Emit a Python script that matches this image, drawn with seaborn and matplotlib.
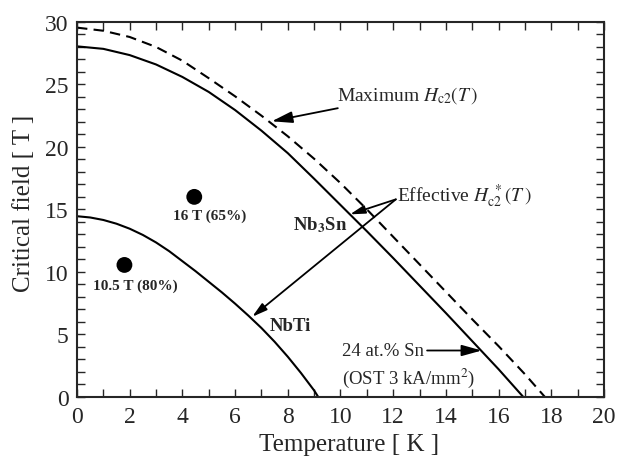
import numpy as np
import pandas as pd
import matplotlib
matplotlib.use("Agg")
import matplotlib.pyplot as plt
import seaborn as sns
from matplotlib.ticker import MultipleLocator

# values
temp_max = [0, 1, 2, 3, 4, 5, 6, 7, 8, 9, 10, 11, 12, 13, 14, 15, 16, 17, 17.75]
hc2_max = [29.55, 29.3, 28.8, 28.0, 26.9, 25.5, 24.05, 22.5, 20.85, 19.05,
           17.1, 15.0, 12.8, 10.6, 8.4, 6.2, 4.05, 1.8, 0.0]

temp_nb3sn = [0, 1, 2, 3, 4, 5, 6, 7, 8, 9, 10, 11, 12, 13, 14, 15, 16, 16.93]
hc2_nb3sn = [28.05, 27.85, 27.35, 26.6, 25.6, 24.4, 22.95, 21.3, 19.5, 17.45,
             15.35, 13.25, 11.1, 8.9, 6.7, 4.45, 2.2, 0.0]

temp_nbti = [0, 0.5, 1, 1.5, 2, 2.5, 3, 3.5, 4, 4.5, 5, 5.5, 6, 6.5, 7,
             7.5, 8, 8.5, 9, 9.15]
hc2_nbti = [14.45, 14.35, 14.15, 13.85, 13.45, 12.95, 12.35, 11.65, 10.85, 10.05,
            9.2, 8.35, 7.45, 6.5, 5.5, 4.4, 3.2, 1.9, 0.5, 0.0]

point_temp = [1.8, 4.45]
point_field = [10.55, 16.0]
point_labels = ["10.5 T (80%)", "16 T (65%)"]

sns.set_style("ticks")
plt.rcParams['font.family'] = ['Liberation Serif', 'DejaVu Serif']
plt.rcParams['mathtext.fontset'] = 'stix'

fig = plt.figure(figsize=(6.21, 4.6), dpi=100)
ax = fig.add_axes([0.124, 0.1354, 0.8486, 0.8146])

df_max = pd.DataFrame({"T": temp_max, "H": hc2_max})
df_nb3sn = pd.DataFrame({"T": temp_nb3sn, "H": hc2_nb3sn})
df_nbti = pd.DataFrame({"T": temp_nbti, "H": hc2_nbti})

sns.lineplot(data=df_max, x="T", y="H", sort=False, color="black",
             linewidth=1.5, linestyle=(0, (5, 3)), ax=ax)
sns.lineplot(data=df_nb3sn, x="T", y="H", sort=False, color="black",
             linewidth=1.5, ax=ax)
sns.lineplot(data=df_nbti, x="T", y="H", sort=False, color="black",
             linewidth=1.5, ax=ax)
sns.scatterplot(x=point_temp, y=point_field, color="black", s=130,
                edgecolor="none", ax=ax, zorder=5)

ax.set_xlim(0, 20)
ax.set_ylim(0, 30)
ax.xaxis.set_major_locator(MultipleLocator(2))
ax.xaxis.set_minor_locator(MultipleLocator(1))
ax.yaxis.set_major_locator(MultipleLocator(5))
ax.yaxis.set_minor_locator(MultipleLocator(1))
ax.tick_params(which="both", direction="in", top=True, right=True,
               length=6, width=1.0, labelsize=17)
ax.tick_params(axis="x", pad=7)
ax.tick_params(axis="y", pad=6)
for sp in ax.spines.values():
    sp.set_linewidth(1.5)

ax.set_xlabel("Temperature [ K ]", fontsize=18, va="center")
ax.set_ylabel("Critical field [ T ]", fontsize=18, va="center")
ax.xaxis.set_label_coords(0.516, -0.126)
ax.yaxis.set_label_coords(-0.1006, 0.518)

# point labels
ax.text(2.2, 8.9, point_labels[0], fontsize=11, fontweight="bold",
        ha="center", va="center")
ax.text(5.05, 14.5, point_labels[1], fontsize=11, fontweight="bold",
        ha="center", va="center")

# curve labels
ax.text(8.2, 13.8, r"Nb$_{\mathbf{3}}$Sn", fontsize=13.5, fontweight="bold",
        ha="left", va="center")
ax.text(7.33, 5.7, "NbTi", fontsize=13.5, fontweight="bold",
        ha="left", va="center")

arrow = dict(arrowstyle="-|>,head_length=0.9,head_width=0.25",
             color="black", lw=1.3, shrinkA=0, shrinkB=0)

ax.annotate(r"Maximum $H_{\mathrm{c2}}(T\,)$", xy=(7.39, 22.05),
            xytext=(9.85, 24.2), fontsize=14, ha="left", va="center",
            arrowprops=arrow)

ax.text(12.15, 16.1, r"Effective $H_{\mathrm{c2}}^{\ *}(T\,)$",
        fontsize=14, ha="left", va="center")
ax.annotate("", xy=(10.36, 14.6), xytext=(12.1, 15.8), arrowprops=arrow)
ax.annotate("", xy=(6.65, 6.4), xytext=(12.1, 15.8), arrowprops=arrow)

ax.annotate("24 at.% Sn", xy=(15.36, 3.7), xytext=(10.05, 3.7),
            fontsize=13.5, ha="left", va="center", arrowprops=arrow)
ax.text(10.05, 1.55, r"(OST 3 kA/mm$^2$)", fontsize=13.5,
        ha="left", va="center")

fig.savefig("out.png", dpi=100)
